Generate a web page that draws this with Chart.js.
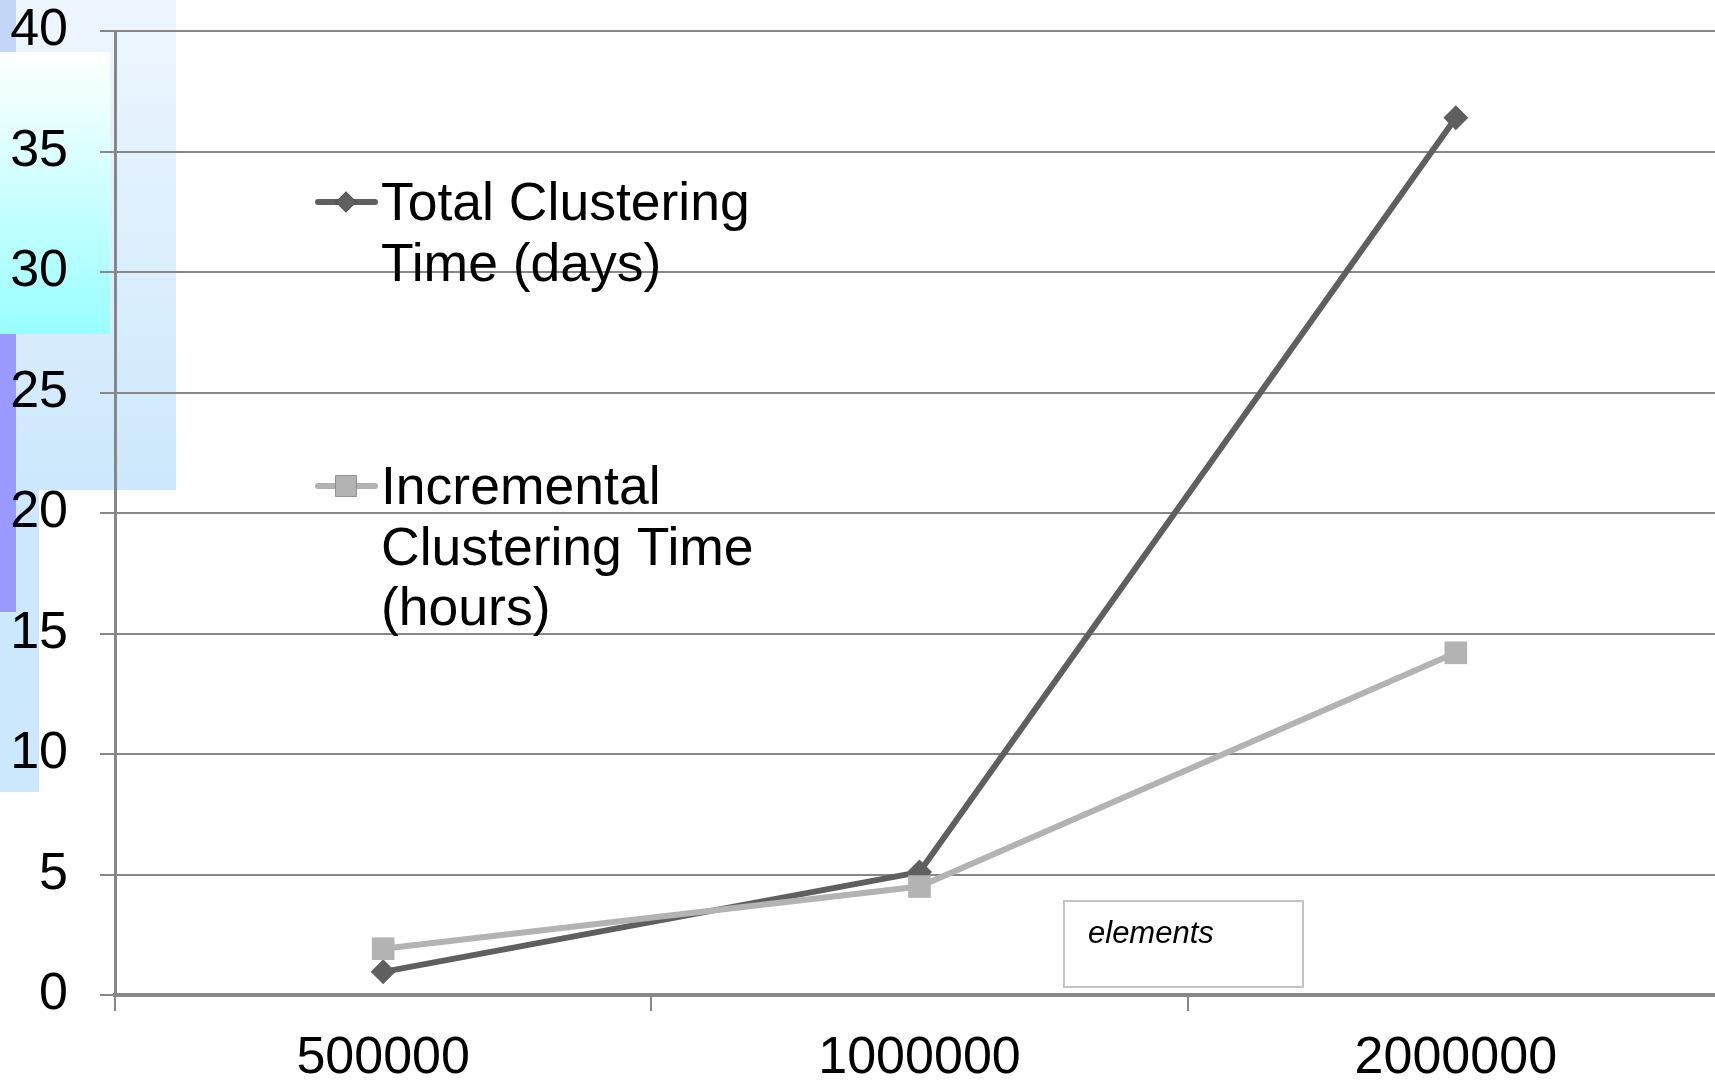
<!DOCTYPE html>
<html>
<head>
<meta charset="utf-8">
<script src="https://cdn.jsdelivr.net/npm/chart.js@4/dist/chart.umd.min.js"></script>
<style>
html, body { margin: 0; padding: 0; background: #fff; overflow: hidden; }
#wrap { width: 1740px; height: 1082px; }
</style>
</head>
<body>
<div id="wrap"><canvas id="chart" width="1740" height="1082"></canvas></div>
<script>
// Data
const categories = ['500000', '1000000', '2000000'];
const totalDays = [0.96, 5.1, 36.4];
const incrementalHours = [1.92, 4.5, 14.2];
const yMin = 0, yMax = 40, yStep = 5;

// Legend text, wrapped as in the original
const totalLabel = ['Total Clustering', 'Time (days)'];
const incrementalLabel = ['Incremental', 'Clustering Time', '(hours)'];
const noteText = 'elements';

const DARK = '#5f5f5f';
const LIGHT = '#b3b3b3';
const GRID = '#878787';
const FONT = '"Liberation Sans", Arial, sans-serif';

// Decorative blocks behind the y axis
const decoPlugin = {
    id: 'deco',
    beforeDraw(chart) {
        const c = chart.ctx;
        c.save();
        let g = c.createLinearGradient(0, 0, 0, 490);
        g.addColorStop(0, '#eef6fe');
        g.addColorStop(1, '#cce8fc');
        c.fillStyle = g;
        c.fillRect(0, 0, 176, 490);
        c.fillStyle = '#c2d6f8';
        c.fillRect(0, 0, 16, 52);
        g = c.createLinearGradient(0, 52, 0, 334);
        g.addColorStop(0, '#ffffff');
        g.addColorStop(1, '#99ffff');
        c.fillStyle = g;
        c.fillRect(0, 52, 110, 282);
        c.fillStyle = '#cce8fc';
        c.fillRect(0, 490, 39, 302);
        c.fillStyle = '#9999ff';
        c.fillRect(0, 334, 16, 278);
        c.restore();
    }
};

// Legend drawn inside the plot with wrapped text
const legendPlugin = {
    id: 'wrapLegend',
    afterDraw(chart) {
        const c = chart.ctx;
        const items = [
            { ds: chart.data.datasets[0], lines: totalLabel, y: 202 },
            { ds: chart.data.datasets[1], lines: incrementalLabel, y: 486 }
        ];
        c.save();
        items.forEach(it => {
            c.strokeStyle = it.ds.borderColor;
            c.lineWidth = 6;
            c.lineCap = 'round';
            c.beginPath();
            c.moveTo(318, it.y);
            c.lineTo(375, it.y);
            c.stroke();
            Chart.helpers.drawPoint(c, {
                pointStyle: it.ds.pointStyle,
                radius: it.ds.pointStyle === 'rect' ? 15 : 10.5,
                borderWidth: 0
            }, 346, it.y);
            c.fillStyle = it.ds.borderColor;
            c.fill();
            c.fillStyle = '#000';
            c.font = '53.5px ' + FONT;
            c.textBaseline = 'alphabetic';
            it.lines.forEach((t, i) => c.fillText(t, 381, it.y + 18 + i * 60.5));
        });

        // small text box
        c.fillStyle = '#fff';
        c.fillRect(1064, 901, 239, 86);
        c.strokeStyle = '#c4c4c4';
        c.lineWidth = 2;
        c.strokeRect(1064, 901, 239, 86);
        c.fillStyle = '#000';
        c.font = 'italic 31px ' + FONT;
        c.fillText(noteText, 1088, 943);
        c.restore();
    }
};

const ctx = document.getElementById('chart').getContext('2d');
new Chart(ctx, {
    type: 'line',
    data: {
        labels: categories,
        datasets: [{
            label: totalLabel.join(' '),
            data: totalDays,
            borderColor: DARK,
            backgroundColor: DARK,
            borderWidth: 6,
            pointStyle: 'rectRot',
            pointRadius: 12.5,
            pointBorderWidth: 0,
            tension: 0,
            order: 2
        }, {
            label: incrementalLabel.join(' '),
            data: incrementalHours,
            borderColor: LIGHT,
            backgroundColor: LIGHT,
            borderWidth: 6,
            pointStyle: 'rect',
            pointRadius: 16,
            pointBorderWidth: 0,
            tension: 0,
            order: 1
        }]
    },
    options: {
        responsive: false,
        devicePixelRatio: 1,
        animation: false,
        layout: { padding: { top: 31, left: 0, right: 0, bottom: 0 } },
        plugins: {
            legend: { display: false },
            tooltip: { enabled: false }
        },
        scales: {
            x: {
                offset: true,
                grid: {
                    offset: true,
                    drawOnChartArea: false,
                    drawTicks: true,
                    tickLength: 16,
                    color: GRID,
                    lineWidth: 2
                },
                border: { color: GRID, width: 4 },
                ticks: {
                    color: '#000',
                    font: { family: FONT, size: 52 },
                    padding: 16,
                    maxRotation: 0
                },
                afterFit(s) { s.height = 87; }
            },
            y: {
                min: yMin,
                max: yMax,
                grid: {
                    color: GRID,
                    lineWidth: 2,
                    drawTicks: true,
                    tickLength: 15
                },
                border: { color: GRID, width: 3 },
                ticks: {
                    stepSize: yStep,
                    color: '#000',
                    font: { family: FONT, size: 52 },
                    padding: 32
                },
                afterFit(s) {
                    s.width = 115;
                    s.paddingTop = 0;
                    s.paddingBottom = 0;
                }
            }
        }
    },
    plugins: [decoPlugin, legendPlugin]
});
</script>
</body>
</html>
